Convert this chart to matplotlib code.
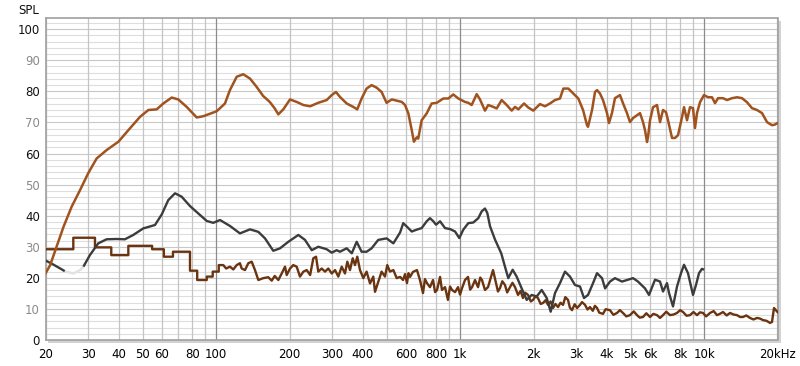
import numpy as np
import matplotlib.pyplot as plt
from matplotlib.patches import Rectangle

# ---- data (Hz, dB SPL) ----
orange_f = [20, 20.9, 22.2, 23.7, 25.6, 27.7, 29.9, 32.4, 35.6, 39.8, 43.7, 48.8, 52.8, 57.1,
            60.8, 65.8, 70, 75.8, 83.3, 88.7, 100.6, 108.8, 114, 121.5, 129.3, 137.8, 146.8,
            156, 166, 174, 180, 188.6, 201, 214, 228, 243, 262, 284, 298, 310, 322, 343, 365,
            379, 395, 414, 434, 455, 477, 500, 525, 550, 577, 595, 614, 634, 647, 664, 674,
            696, 730, 765, 802, 854, 895, 938, 984, 1048, 1081, 1116, 1170, 1207, 1265, 1305,
            1368, 1413, 1481, 1553, 1628, 1680, 1733, 1829, 1904, 1996, 2126, 2229, 2337, 2450,
            2568, 2651, 2778, 2912, 3053, 3192, 3314, 3346, 3475, 3574, 3642, 3746, 3853, 4002,
            4077, 4194, 4315, 4523, 4653, 4832, 4972, 5115, 5312, 5465, 5622, 5728, 5838, 5893,
            6006, 6178, 6416, 6600, 6790, 6984, 7118, 7392, 7604, 7822, 8122, 8277, 8515, 8758,
            9010, 9182, 9357, 9626, 9994, 10380, 10780, 11090, 11410, 11960, 12420, 13020,
            13650, 14310, 15000, 15720, 16480, 17280, 18120, 18990, 19500, 20000]
orange_db = [21.4, 24.1, 30, 36.4, 42.9, 48.2, 53.6, 58.4, 61.1, 63.8, 67.5, 71.8, 74, 74.2,
             76.1, 78, 77.4, 75, 71.6, 72, 73.6, 76.1, 80.4, 84.7, 85.5, 84.1, 81.4,
             78.5, 76.6, 74.5, 72.6, 74.2, 77.4, 76.6, 75.6, 75.2, 76.3, 77.2, 78.8, 79.8, 78.2,
             76.1, 75, 74.2, 77.7, 80.9, 82, 81.2, 79.8, 76.3, 77.4, 77, 76.6, 75.6, 72.9, 67.5,
             63.8, 65.2, 64.8, 70.7, 72.9, 76.1, 76.3, 77.7, 77.7, 79, 77.7, 76.6, 76.3, 75.6,
             79.1, 77.4, 73.8, 75.6, 75, 74.5, 77.2, 75.6, 73.8, 75, 74.2, 76.1, 74.8, 73.8,
             75.9, 75.2, 76.1, 77.2, 77.7, 80.9, 80.9, 79.3, 77.7, 74, 69.1, 68.6, 74, 79.8,
             80.4, 79.3, 77.2, 73, 69.8, 73, 77.8, 78.8, 76.2, 73, 70.1, 71.4, 72.3, 73, 70.1,
             67.5, 63.7, 65.3, 70.7, 74.9, 75.6, 70.1, 74, 73.3, 70.7, 65, 65, 65.9, 71.7,
             74.9, 70.7, 74.9, 74.6, 68.2, 73, 76.5, 78.8, 78.1, 78.1, 76.2, 77.8, 77.8, 77.2,
             77.8, 78.1, 77.8, 76.5, 74.6, 74, 73, 70.1, 69.1, 69.3, 69.8]

gray_f = [20, 21.5, 23.7, 24.0]
gray_db = [25.6, 24.3, 22.4, 22.1]
faded_f = [24.0, 26.0, 27.7, 28.6]
faded_db = [22.1, 21.4, 22.5, 23.6]
gray2_f = [28.6, 30.4, 32.9, 35.6, 39.2, 42.3, 45.8, 50.3, 56.2, 59.9, 63.7, 67.9, 72.3, 78.2,
           84.6, 91.6, 97.4, 103.8, 114, 125.3, 137.8, 149, 158.7, 171.6, 182.9, 197.8, 217.4,
           231.5, 246.7, 262.4, 284, 298, 312, 322, 343, 360, 377, 395, 414, 434, 462, 500,
           533, 568, 585, 614, 634, 664, 696, 730, 753, 777, 797, 828, 868, 910, 954, 993,
           1031, 1081, 1133, 1188, 1227, 1265, 1293, 1327, 1391, 1475, 1528, 1576, 1643, 1706,
           1789, 1876, 1966, 2061, 2161, 2266, 2352, 2450, 2568, 2692, 2822, 2958, 3102, 3221,
           3346, 3508, 3642, 3818, 3930, 4116, 4315, 4610, 4880, 5115, 5362, 5728, 5948, 6296,
           6600, 6790, 7050, 7187, 7460, 7748, 8046, 8277, 8594, 9010, 9268, 9536, 9808, 10000]
gray2_db = [23.6, 27.3, 31.1, 32.4, 32.5, 32.4, 33.8, 35.9, 37, 40.4, 45, 47.2, 46.1, 43.1,
            40.7, 38.3, 37.7, 38.6, 36.7, 34.3, 35.6, 34.8, 32.7, 28.7, 29.5, 31.6, 33.8,
            32.2, 28.9, 30, 29.2, 28.1, 28.9, 28.4, 29.5, 27.9, 31.6, 28.4, 28.4, 29.5, 32.2, 32.7,
            31.1, 34.6, 37.6, 36, 34.9, 35.5, 36, 38.2, 39.2, 38.2, 37.1, 38.2, 36, 35.7, 34.9, 32.8,
            35.5, 37.6, 37.8, 39.2, 41.4, 42.3, 40.9, 36.6, 32.3, 27.9, 23.6, 19.9, 22.6, 20.4,
            16.6, 12.9, 14.5, 14, 16.1, 13.5, 9.1, 15.1, 18.3, 22, 20.4, 17.7, 17.2, 13.5,
            14.5, 18.3, 21.5, 19.9, 16.6, 18.8, 19.9, 18.8, 19.4, 19.9, 18.8, 16.6, 14.5, 19.4,
            18.8, 15.6, 18.3, 15.1, 10.8, 17.2, 21.5, 24.2, 21.5, 14.5, 17.7, 21.5, 22.9, 22.6]

brown_f = [20, 26, 26, 31.9, 31.9, 37.2, 37.2, 43.7, 43.7, 54.7, 54.7, 61.1, 61.1, 66.6, 66.6,
           78.2, 78.2, 83.7, 83.7, 91.6, 91.6, 96.9, 96.9, 102.6, 102.6, 107.1, 110, 114, 117.7,
           121.5, 125.3, 127.4, 131.4, 135.6, 140, 144.4, 149, 156.1, 163.7, 169.1, 174, 180,
           185.8, 191.7, 194.8, 201, 207.2, 214, 220.8, 228, 235.3, 243, 250.4, 256.9, 262.4,
           271, 279.7, 288.4, 298, 307.4, 317, 327.3, 337.6, 345.1, 354, 363.2, 371, 379.2,
           389, 401.4, 414, 427.6, 441, 448.2, 462, 477, 492.4, 503.2, 516.2, 533, 550, 568,
           584, 595, 606, 615, 624, 641, 666, 685, 705, 718, 732, 753, 775, 790, 805, 828, 843,
           868, 892, 910, 927, 954, 981, 1000, 1019, 1048, 1078, 1100, 1120, 1152, 1185, 1210,
           1230, 1265, 1302, 1340, 1365, 1404, 1430, 1458, 1490, 1528, 1560, 1602, 1640, 1680,
           1728, 1770, 1811, 1850, 1899, 1950, 1991, 2040, 2086, 2140, 2188, 2240, 2294, 2350,
           2405, 2460, 2521, 2580, 2643, 2700, 2770, 2820, 2876, 2950, 3016, 3102, 3162, 3252,
           3330, 3408, 3500, 3570, 3642, 3720, 3853, 3950, 4116, 4250, 4398, 4520, 4653, 4800,
           4972, 5150, 5312, 5450, 5622, 5800, 6006, 6200, 6416, 6600, 6790, 7000, 7254, 7500,
           7748, 7980, 8200, 8480, 8758, 9050, 9357, 9620, 9900, 10200, 10580, 10950, 11300,
           11600, 11960, 12380, 12780, 13200, 13650, 14050, 14440, 14900, 15430, 15950, 16480,
           16950, 17440, 18000, 18640, 18990, 19350, 20000]
brown_db = [29.2, 29.2, 32.9, 32.9, 29.8, 29.8, 27.3, 27.3, 30.3, 30.3, 29.2, 29.2, 26.8, 26.8,
            28.4, 28.4, 22.3, 22.3, 19.3, 19.3, 20.4, 20.4, 22, 22, 24.1, 24.1, 23, 23.6, 22.7,
            24.1, 24.7, 23, 22.5, 24.7, 25.2, 22.5, 19.3, 19.9, 20.2, 19.1, 20.6, 19.3,
            21.4, 23.6, 20.9, 23, 24.1, 23.6, 20.4, 22, 22.5, 20.9, 26.3, 26.8, 22,
            23, 22, 23, 21.4, 22.5, 20.4, 23.6, 21.4, 25.2, 22.5, 26.3, 24.1, 26.8,
            22.5, 19.9, 22, 18.2, 20.4, 15.5, 18.7, 22, 20.4, 24.1, 22, 22.5, 19.9, 20.3,
            19.3, 21.2, 18.3, 21.5, 20.3, 21.9, 22.5, 19.3, 15.1, 19.6, 18.3, 17, 19.3, 15.4, 16.1,
            20.3, 16.1, 17, 12.9, 17.2, 16.1, 15.4, 17, 14.6, 16.7, 19.3, 20.3, 16.2, 17, 19.3,
            17, 20.1, 19.3, 16.1, 17, 20.4, 22.5, 18.3, 15.6, 16.7, 18.9, 17.7, 15.3, 17,
            18.4, 17, 14.5, 15.8, 13.5, 15.2, 14.5, 12.4, 12.9, 14.1, 13.5, 11.6, 11.9, 12.8,
            11.3, 12.4, 10.3, 11.6, 10.6, 12, 11.3, 13.8, 12.9, 10.4, 9.6, 11.5, 10.3, 11.3, 12.2,
            11.3, 9.8, 10.6, 9.4, 11, 10.3, 8.8, 8.4, 9.9, 9.6, 8.1, 8.7, 9.6, 8.7, 7.6, 8, 9.2,
            8, 7.2, 7.4, 8.6, 7.4, 8.4, 8, 7.1, 8, 9.1, 8, 8.2, 8.7, 9.6, 9, 7.8, 8, 9, 8, 8.9,
            8.7, 7.6, 8.7, 9.3, 8, 8.4, 9, 7.9, 8.7, 8.2, 8, 7.4, 7.4, 7.9, 7.1, 6.6, 7.1, 6.9,
            6.4, 6.2, 5.5, 5.8, 10.3, 9]

xtick_vals = [20, 30, 40, 50, 60, 80, 100, 200, 300, 400, 600, 800, 1000, 2000, 3000, 4000,
              5000, 6000, 8000, 10000, 20000]
xtick_labels = ['20', '30', '40', '50', '60', '80', '100', '200', '300', '400', '600', '800',
                '1k', '2k', '3k', '4k', '5k', '6k', '8k', '10k', '20kHz']

ORANGE = '#a0531f'
BROWN = '#6b3411'
DARK = '#3c3c3c'

fig = plt.figure(figsize=(8, 3.66), dpi=100)
ax = fig.add_axes([45.5/800, 26/366, 732/800, 322/366])

# shadow behind the frame
fig.patches.append(Rectangle((47.5/800, 23.5/366), 733/800, 322/366, transform=fig.transFigure,
                             facecolor='#d2d2d2', edgecolor='none', zorder=-1))

ax.set_xscale('log')
ax.set_xlim(20, 20000)
ax.set_ylim(0, 103.6)

# grid: horizontal lines under the vertical ones
for v in range(2, 104, 2):
    ax.axhline(v, color='#c8c8c8' if v % 10 == 0 else '#dedede', lw=0.8, zorder=0.5)
grid_f = [m * 10**e for e in range(1, 5) for m in range(1, 10) if 20 <= m * 10**e <= 20000]
for g in grid_f:
    dec = g in (100, 1000, 10000)
    ax.axvline(g, color='#8c8c8c' if dec else '#c4c4c4', lw=0.9, zorder=1 if dec else 0.8)

ax.plot(brown_f, brown_db, color=BROWN, lw=1.7, zorder=3)
ax.plot(gray_f, gray_db, color=DARK, lw=1.7, zorder=4, solid_capstyle='butt')
ax.plot(faded_f, faded_db, color='#e2e2e2', lw=1.7, zorder=4, solid_capstyle='butt')
ax.plot(gray2_f, gray2_db, color=DARK, lw=1.7, zorder=4, solid_capstyle='butt')
ax.plot(orange_f, orange_db, color=ORANGE, lw=1.8, zorder=5)

ax.set_xticks(xtick_vals)
ax.set_xticklabels(xtick_labels)
ax.xaxis.set_minor_locator(plt.NullLocator())
ax.set_yticks(range(0, 101, 10))
ax.set_yticklabels([str(v) for v in range(0, 101, 10)])
for lab, v in zip(ax.get_yticklabels(), range(0, 101, 10)):
    lab.set_color('#111111' if v % 20 == 0 else '#8a8a8a')
ax.tick_params(axis='both', length=0, labelsize=8.5)
ax.tick_params(axis='x', pad=6)
ax.tick_params(axis='y', pad=4)

for s in ax.spines.values():
    s.set_color('#a0a0a0')
    s.set_linewidth(1.2)

fig.text(39/800, 1 - 10/366, 'SPL', ha='right', va='center', fontsize=8.5, color='#111111')

fig.savefig('out.png', dpi=100)
